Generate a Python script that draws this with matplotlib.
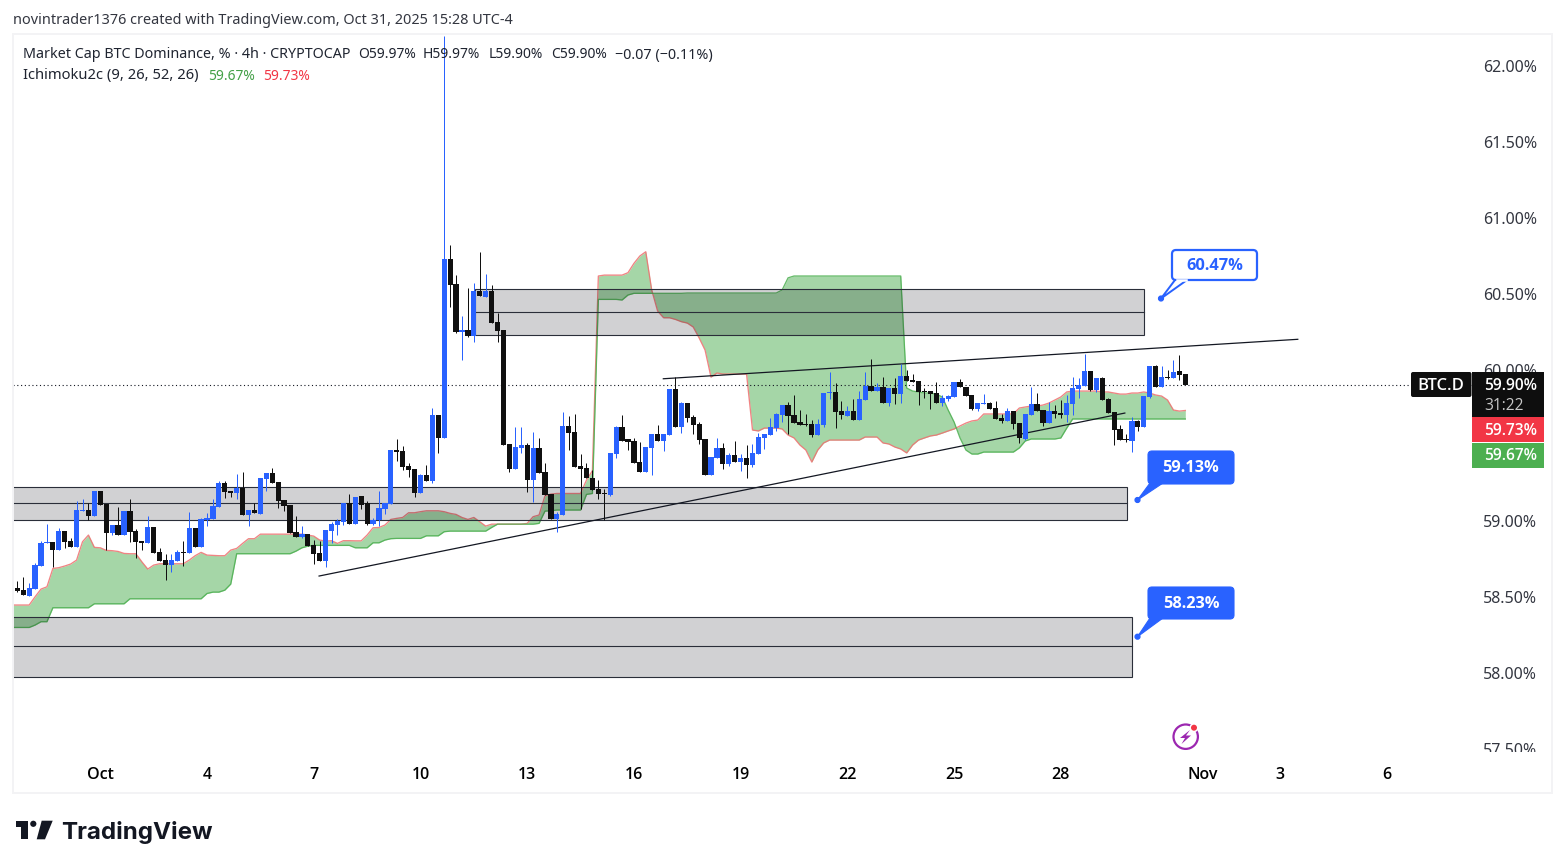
import numpy as np
import matplotlib
matplotlib.use("Agg")
import matplotlib.pyplot as plt
from matplotlib.patches import Rectangle, FancyBboxPatch, Polygon, Circle

opens = [58.557,58.546,58.507,58.553,58.705,58.856,58.863,58.810,58.935,58.869,
 58.830,59.067,59.074,59.034,59.199,59.113,58.922,58.975,58.909,59.067,
 58.935,58.869,58.856,58.962,58.797,58.744,58.711,58.737,58.797,58.790,
 58.955,58.830,59.008,59.014,59.093,59.252,59.199,59.186,59.219,59.041,
 59.074,59.047,59.278,59.317,59.258,59.140,59.107,58.929,58.896,58.915,
 58.843,58.790,58.737,58.935,58.975,58.995,
 59.117,58.981,59.166,59.117,58.981,59.008,59.080,59.113,59.469,59.462,
 59.364,59.344,59.186,59.304,59.265,59.700,59.548,60.728,60.563,60.247,
 60.260,60.220,60.517,60.477,60.517,60.313,60.260,59.509,59.344,59.482,
 59.502,59.271,59.482,59.324,59.179,59.014,59.041,59.627,59.588,59.364,
 59.350,59.284,59.212,59.186,59.172,59.443,59.621,59.541,59.528,59.390,
 59.324,59.482,59.574,59.528,59.568,59.871,
 59.621,59.779,59.686,59.640,59.541,59.304,59.416,59.482,59.377,59.436,
 59.390,59.416,59.370,59.443,59.548,59.568,59.614,59.700,59.766,59.700,
 59.654,59.640,59.640,59.568,59.634,59.845,59.851,59.726,59.693,59.726,
 59.667,59.799,59.891,59.858,59.884,59.779,59.878,59.838,59.957,59.930,
 59.924,59.858,59.858,59.845,59.779,59.805,59.818,59.917,59.884,59.832,
 59.739,59.772,59.779,59.746,59.680,59.660,59.726,59.647,59.541,59.700,
 59.772,59.733,59.647,59.726,59.713,59.700,59.772,59.871,59.891,59.990,
 59.864,59.944,59.805,59.719,59.607,59.541,59.528,59.660,59.621,59.818,
 60.023,59.884,59.950,59.944,59.990,59.970]
highs = [58.608,58.632,58.590,58.722,58.869,58.981,58.863,58.953,58.935,58.887,
 59.133,59.146,59.118,59.199,59.199,59.113,58.975,59.093,59.067,59.146,
 58.948,58.869,59.034,58.962,58.823,58.784,58.784,58.810,58.869,59.060,
 58.955,59.021,59.054,59.146,59.265,59.265,59.199,59.311,59.324,59.074,
 59.118,59.285,59.317,59.350,59.258,59.140,59.107,59.034,58.968,58.915,
 58.876,58.869,58.942,58.995,59.014,59.120,
 59.179,59.159,59.166,59.133,59.021,59.199,59.117,59.469,59.541,59.495,
 59.383,59.344,59.311,59.370,59.746,59.700,62.2,60.820,60.622,60.352,
 60.537,60.570,60.774,60.629,60.557,60.372,60.260,59.509,59.621,59.621,
 59.515,59.588,59.548,59.383,59.179,59.060,59.719,59.693,59.706,59.443,
 59.383,59.337,59.271,59.212,59.449,59.627,59.700,59.541,59.548,59.522,
 59.489,59.574,59.634,59.574,59.871,59.950,
 59.785,59.779,59.700,59.654,59.541,59.423,59.548,59.515,59.449,59.528,
 59.443,59.502,59.509,59.581,59.574,59.680,59.713,59.766,59.785,59.832,
 59.733,59.706,59.667,59.673,59.845,59.983,59.911,59.792,59.759,59.805,
 59.858,59.983,60.069,59.911,59.950,59.878,59.944,60.036,59.996,59.970,
 59.924,59.878,59.858,59.917,59.832,59.832,59.917,59.937,59.884,59.832,
 59.779,59.838,59.785,59.792,59.706,59.746,59.726,59.647,59.706,59.884,
 59.845,59.733,59.785,59.766,59.799,59.832,59.950,59.944,60.102,59.990,
 59.944,59.950,59.812,59.719,59.634,59.574,59.686,59.667,59.825,60.023,
 60.029,60.023,59.996,60.062,60.095,59.97]
lows = [58.535,58.513,58.507,58.553,58.705,58.856,58.698,58.810,58.823,58.830,
 58.830,59.067,59.008,59.034,59.107,58.810,58.909,58.909,58.909,58.863,
 58.757,58.810,58.856,58.790,58.737,58.612,58.665,58.737,58.705,58.790,
 58.830,58.830,58.968,59.014,59.093,59.153,59.159,59.146,59.041,58.968,
 59.054,59.047,59.199,59.252,59.087,59.067,58.922,58.896,58.889,58.836,
 58.718,58.737,58.698,58.856,58.909,58.975,
 58.981,58.981,59.080,58.975,58.975,58.968,59.047,59.113,59.396,59.337,
 59.291,59.159,59.186,59.265,59.251,59.449,59.548,60.411,60.240,60.062,
 60.214,60.181,60.484,60.477,60.306,60.181,59.502,59.324,59.344,59.449,
 59.192,59.126,59.317,59.172,59.014,58.928,59.041,59.469,59.357,59.080,
 59.284,59.205,59.146,59.008,59.166,59.416,59.528,59.469,59.383,59.324,
 59.324,59.304,59.528,59.462,59.568,59.621,
 59.581,59.654,59.574,59.509,59.304,59.304,59.416,59.344,59.364,59.390,
 59.331,59.284,59.357,59.443,59.476,59.568,59.594,59.654,59.574,59.647,
 59.634,59.627,59.555,59.568,59.621,59.805,59.614,59.673,59.693,59.667,
 59.667,59.799,59.858,59.858,59.779,59.759,59.772,59.779,59.924,59.917,
 59.766,59.812,59.739,59.779,59.759,59.792,59.818,59.884,59.825,59.733,
 59.726,59.772,59.739,59.673,59.647,59.660,59.607,59.515,59.535,59.700,
 59.726,59.627,59.647,59.680,59.680,59.654,59.700,59.812,59.891,59.858,
 59.851,59.799,59.713,59.502,59.535,59.522,59.456,59.594,59.621,59.812,
 59.884,59.884,59.937,59.944,59.930,59.90]
closes = [58.540,58.513,58.560,58.711,58.856,58.860,58.810,58.935,58.863,58.830,
 59.074,59.074,59.034,59.199,59.107,58.922,58.975,58.909,59.067,58.929,
 58.863,58.856,58.962,58.790,58.737,58.711,58.744,58.797,58.790,58.955,
 58.830,59.014,59.021,59.100,59.252,59.192,59.186,59.219,59.041,59.074,
 59.054,59.285,59.317,59.252,59.133,59.100,58.922,58.896,58.915,58.836,
 58.784,58.737,58.942,58.981,59.001,59.120,
 58.981,59.159,59.106,58.981,59.008,59.087,59.117,59.469,59.456,59.357,
 59.337,59.186,59.304,59.265,59.700,59.548,60.728,60.557,60.247,60.260,
 60.220,60.517,60.484,60.517,60.306,60.253,59.502,59.344,59.489,59.502,
 59.271,59.482,59.317,59.172,59.014,59.047,59.627,59.581,59.357,59.344,
 59.284,59.205,59.179,59.179,59.449,59.621,59.528,59.522,59.383,59.324,
 59.489,59.574,59.528,59.574,59.871,59.621,
 59.779,59.680,59.634,59.535,59.304,59.423,59.482,59.377,59.436,59.390,
 59.416,59.370,59.449,59.555,59.574,59.621,59.706,59.766,59.693,59.647,
 59.634,59.634,59.568,59.640,59.845,59.851,59.719,59.700,59.726,59.667,
 59.805,59.891,59.858,59.884,59.779,59.878,59.838,59.957,59.924,59.917,
 59.851,59.851,59.838,59.779,59.812,59.825,59.917,59.884,59.825,59.739,
 59.779,59.779,59.739,59.673,59.660,59.726,59.640,59.548,59.706,59.772,
 59.726,59.647,59.726,59.706,59.700,59.779,59.878,59.897,59.990,59.864,
 59.944,59.799,59.713,59.601,59.535,59.535,59.660,59.621,59.825,60.023,
 59.884,59.950,59.944,59.983,59.963,59.90]

# Ichimoku leading spans, bar -1 .. 197
span_red = [58.448,58.448,58.448,58.448,58.502,58.553,58.568,58.689,58.694,58.705,58.718,58.744,58.865,58.909,
 58.828,58.825,58.808,58.806,58.801,58.788,58.786,58.786,58.733,58.685,58.711,58.720,58.720,58.720,58.720,58.720,
 58.744,58.773,58.795,58.777,58.775,58.773,58.773,58.810,58.821,58.854,58.885,58.885,58.915,58.915,58.915,58.915,58.915,58.915,
 58.915,58.915,58.909,58.902,58.876,58.869,58.872,58.854,58.872,58.872,
 58.871,58.871,58.909,58.957,58.959,58.975,59.012,59.019,59.025,59.056,59.056,59.063,59.069,59.069,59.069,
 59.063,59.052,59.045,59.025,59.012,59.025,58.997,58.968,58.981,58.981,58.981,58.981,58.981,58.981,58.986,59.030,59.041,
 59.168,59.179,59.183,59.183,59.183,59.183,59.183,59.271,59.333,60.616,60.622,60.622,60.622,60.622,60.638,60.699,60.748,60.776,
 60.524,60.385,60.341,60.341,60.330,60.315,60.306,60.280,60.208,60.128,59.950,59.977,59.970,59.970,59.970,59.970,59.970,
 59.601,59.595,59.614,59.614,59.614,59.608,59.568,59.549,59.502,59.469,59.390,59.469,59.516,
 59.535,59.535,59.535,59.535,59.535,59.535,59.555,59.555,59.555,59.516,59.509,59.489,59.476,59.450,59.502,59.535,59.549,59.562,
 59.568,59.581,59.595,59.608,59.628,59.647,59.661,59.667,59.707,59.707,59.707,59.707,59.707,59.707,59.746,59.753,59.759,59.759,
 59.766,59.779,59.799,59.819,59.852,59.858,59.858,59.858,59.858,59.858,59.852,59.852,59.845,59.838,59.838,59.845,59.845,59.852,
 59.845,59.832,59.825,59.799,59.733,59.726,59.730]
span_green = [58.300,58.300,58.300,58.300,58.316,58.338,58.338,58.430,58.430,58.430,58.430,58.430,58.430,58.430,
 58.456,58.456,58.456,58.456,58.456,58.456,58.489,58.489,58.489,58.489,58.489,58.489,58.489,58.489,58.489,58.489,
 58.489,58.489,58.489,58.524,58.533,58.533,58.546,58.586,58.786,58.786,58.786,58.786,58.786,58.786,58.786,58.786,58.786,58.786,
 58.803,58.825,58.836,58.841,58.841,58.841,58.841,58.841,58.841,58.841,
 58.825,58.825,58.825,58.858,58.858,58.876,58.885,58.887,58.887,58.887,58.887,58.887,58.904,58.904,58.904,
 58.931,58.935,58.935,58.935,58.935,58.935,58.935,58.935,58.959,58.981,58.981,58.981,58.981,58.981,58.981,58.981,58.986,
 59.067,59.069,59.074,59.074,59.074,59.074,59.074,59.177,59.183,60.462,60.462,60.462,60.462,60.458,60.491,60.502,60.502,60.502,
 60.502,60.502,60.502,60.502,60.502,60.502,60.504,60.504,60.504,60.504,60.504,60.504,60.504,60.504,60.504,60.504,60.504,
 60.504,60.504,60.504,60.504,60.504,60.524,60.604,60.616,60.616,60.616,60.616,60.616,60.616,
 60.616,60.616,60.616,60.616,60.616,60.616,60.616,60.616,60.616,60.616,60.616,60.616,60.616,59.878,59.858,59.852,59.845,59.845,
 59.838,59.819,59.733,59.654,59.549,59.469,59.443,59.443,59.456,59.456,59.456,59.456,59.456,59.456,59.483,59.529,59.542,59.542,
 59.542,59.542,59.542,59.549,59.614,59.674,59.674,59.674,59.674,59.674,59.674,59.674,59.674,59.674,59.674,59.674,59.674,59.674,
 59.674,59.674,59.674,59.674,59.674,59.674,59.674]

# Zones: (first bar, last bar, top, middle, bottom)
zone_start = [77.2, -5, -5]
zone_end = [190.0, 187.1, 188.0]
zone_top = [60.530, 59.227, 58.369]
zone_mid = [60.380, 59.117, 58.175]
zone_bottom = [60.227, 59.005, 57.974]

# Trend lines
trend_low_x = [50.9, 186.8]
trend_low_y = [58.639, 59.713]
trend_high_x = [108.96, 215.97]
trend_high_y = [59.939, 60.199]

last_price = 59.90
price_ticks = [57.5, 58.0, 58.5, 59.0, 60.0, 60.5, 61.0, 61.5, 62.0]
date_tick_bars = [14, 32, 50, 68, 86, 104, 122, 140, 158, 176, 200, 213, 231]
date_tick_labels = ["Oct", "4", "7", "10", "13", "16", "19", "22", "25", "28", "Nov", "3", "6"]

UP = "#2962ff"
DOWN = "#101010"
FONT = "Noto Sans"
BOLD = "Open Sans"
plt.rcParams["font.family"] = [FONT, "DejaVu Sans"]

W, H = 1564, 868
fig = plt.figure(figsize=(W / 100, H / 100), dpi=100, facecolor="white")
L, R, T, B = 13, 1472, 35, 752
ax = fig.add_axes([L / W, 1 - B / H, (R - L) / W, (B - T) / H])
for s in ax.spines.values():
    s.set_visible(False)

# x pixel = 17.3 + 5.929 * bar ; y pixel = 66 + (62 - value) * 151.75
ax.set_xlim((L - 17.3) / 5.929, (R - 17.3) / 5.929)
ax.set_ylim(62 - (B - 66) / 151.75, 62 - (T - 66) / 151.75)

cloud_x = np.arange(len(span_red)) - 1
ax.fill_between(cloud_x, span_red, span_green, color="#4caf50", alpha=0.5, lw=0, zorder=1)
ax.plot(cloud_x, span_red, color="#ef6f6f", lw=0.95, alpha=0.85, zorder=1.2)
ax.plot(cloud_x, span_green, color="#4caf50", lw=0.95, alpha=0.85, zorder=1.2)

for a, b, t, m, c in zip(zone_start, zone_end, zone_top, zone_mid, zone_bottom):
    ax.add_patch(Rectangle((a, c), b - a, t - c, facecolor=(0, 0, 0.05, 0.18), edgecolor="#2a2e39", lw=0.8, zorder=2))
    ax.plot([a, b], [m, m], color="#2a2e39", lw=0.8, zorder=2.1)

ax.axhline(last_price, color="#131722", lw=0.8, ls=(0, (1, 2.4)), zorder=2.2)
ax.plot(trend_low_x, trend_low_y, color="#131722", lw=0.9, zorder=2.3)
ax.plot(trend_high_x, trend_high_y, color="#131722", lw=0.9, zorder=2.3)

o, h, l, c = map(np.array, (opens, highs, lows, closes))
x = np.arange(len(o))
cols = [UP if cc >= oo else DOWN for oo, cc in zip(o, c)]
ax.vlines(x, l, h, colors=cols, lw=0.72, zorder=3)
ax.bar(x, np.abs(c - o), bottom=np.minimum(o, c), width=0.88, color=cols, lw=0, zorder=3.1)

ax.yaxis.tick_right()
ax.set_yticks(price_ticks)
ax.set_yticklabels([f"{p:.2f}%" for p in price_ticks], fontsize=11.5, color="#333640")
ax.tick_params(axis="y", length=0, pad=8)
ax.set_xticks(date_tick_bars)
ax.set_xticklabels(date_tick_labels, fontsize=11.5, color="#000000", family=["Open Sans", "DejaVu Sans"], fontweight="semibold")
ax.tick_params(axis="x", length=0, pad=11)
ax.patch.set_alpha(0)

# overlay in pixel coordinates
ov = fig.add_axes([0, 0, 1, 1], zorder=10)
ov.set_xlim(0, W)
ov.set_ylim(H, 0)
ov.axis("off")
ov.patch.set_alpha(0)

ov.add_patch(Rectangle((13, 34), 1538.5, 759, fill=False, edgecolor="#f3f3f5", lw=1.4))
ov.add_patch(Rectangle((1475, 752), 70, 12, facecolor="white", edgecolor="none"))


def label(px, py, s, size=10.2, color="#1f2430", ha="left", weight="normal", va="center", family=None):
    return ov.text(px, py, s, fontsize=size, color=color, ha=ha, va=va, fontweight=weight,
                   family=family or [FONT, "DejaVu Sans"])


label(13, 20.5, "novintrader1376 created with TradingView.com, Oct 31, 2025 15:28 UTC-4", size=10.4, color="#333640")
label(23, 55, "Market Cap BTC Dominance, % · 4h · CRYPTOCAP", size=10.3)
for px, s, sz in [(358, "O59.97%", 10.0), (423, "H59.97%", 10.0), (489, "L59.90%", 10.0), (551, "C59.90%", 10.0), (615, "−0.07 (−0.11%)", 10.3)]:
    label(px, 55, s, size=sz)
label(23, 76, "Ichimoku2c (9, 26, 52, 26)", size=10.6)
label(208, 76, "59.67%", size=10.0, color="#43a047")
label(263, 76, "59.73%", size=10.0, color="#f23645")


def callout(x0, x1, y0, y1, bx0, bx1, dot, text, filled):
    if filled:
        ov.add_patch(Polygon([(bx0, y1 - 1), (bx1, y1 - 1), dot], closed=True, facecolor=UP, edgecolor=UP, lw=0.8))
        ov.add_patch(FancyBboxPatch((x0 + 4, y0 + 4), x1 - x0 - 8, y1 - y0 - 8, boxstyle="round,pad=4,rounding_size=4",
                                    facecolor=UP, edgecolor=UP, lw=0.8))
        tcol = "white"
    else:
        ov.add_patch(FancyBboxPatch((x0 + 4, y0 + 4), x1 - x0 - 8, y1 - y0 - 8, boxstyle="round,pad=4,rounding_size=4",
                                    facecolor="white", edgecolor=UP, lw=1.6))
        ov.add_patch(Polygon([(bx0, y1), (bx1, y1), dot], closed=True, facecolor="white", edgecolor=UP, lw=1.4))
        ov.plot([bx0 + 1.5, bx1 - 1.5], [y1, y1], color="white", lw=1.8)
        tcol = UP
    ov.add_patch(Circle(dot, 2.4, facecolor=UP, edgecolor=UP))
    label((x0 + x1) / 2, (y0 + y1) / 2 + 0.5, text, size=11.8, color=tcol, ha="center", weight="bold", family=[BOLD, "DejaVu Sans"])


callout(1172, 1257, 250, 280, 1175, 1187, (1161, 298.5), "60.47%", False)
callout(1148, 1234, 451, 484, 1150, 1163, (1137.5, 500), "59.13%", True)
callout(1148, 1234, 587, 619, 1150, 1163, (1137.5, 636.7), "58.23%", True)

# price tags
tagfont = ["Open Sans", "DejaVu Sans"]
ov.add_patch(FancyBboxPatch((1413, 374), 56.5, 21, boxstyle="round,pad=2,rounding_size=2", facecolor="#0e0e0e", edgecolor="none"))
label(1441, 385.5, "BTC.D", size=12, color="white", ha="center", weight="semibold", family=tagfont)
ov.add_patch(Rectangle((1472, 372), 72, 45, facecolor="#0e0e0e", edgecolor="none"))
label(1484, 386, "59.90%", size=11.2, color="white", weight="semibold", family=tagfont)
label(1484, 406, "31:22", size=11.2, color="#c8c8c8", family=tagfont)
ov.add_patch(Rectangle((1472, 417), 72, 25, facecolor="#f23645", edgecolor="none"))
label(1484, 431, "59.73%", size=11.2, color="white", weight="semibold", family=tagfont)
ov.add_patch(Rectangle((1472, 442.5), 72, 25, facecolor="#4caf50", edgecolor="none"))
label(1484, 456, "59.67%", size=11.2, color="white", weight="semibold", family=tagfont)

# bolt icon
ov.add_patch(Circle((1185.7, 736.7), 12.2, fill=False, edgecolor="#9c27b0", lw=1.6))
ov.add_patch(Circle((1194, 727.7), 4.5, facecolor="white", edgecolor="none"))
ov.add_patch(Circle((1194, 727.7), 3, facecolor="#f23645", edgecolor="none"))
ov.add_patch(Polygon([(1190, 730), (1180, 738), (1185, 738), (1181.5, 744), (1191, 735.5), (1186, 735.5)],
                     closed=True, facecolor="#9c27b0", edgecolor="none"))

# logo
logo = "#131722"
ov.add_patch(Polygon([(15.7, 820.7), (28.3, 820.7), (28.3, 839.3), (21, 839.3), (21, 827.3), (15.7, 827.3)], closed=True, facecolor=logo, edgecolor="none"))
ov.add_patch(Circle((33.3, 823.8), 3.1, facecolor=logo, edgecolor="none"))
ov.add_patch(Polygon([(41.7, 820.7), (52.7, 820.7), (45, 839.3), (36.7, 839.3)], closed=True, facecolor=logo, edgecolor="none"))
label(61.5, 839, "TradingView", size=17.4, color=logo, weight="bold", va="baseline", family=["Inter", "DejaVu Sans"])

fig.savefig("out.png", dpi=100, facecolor="white")
